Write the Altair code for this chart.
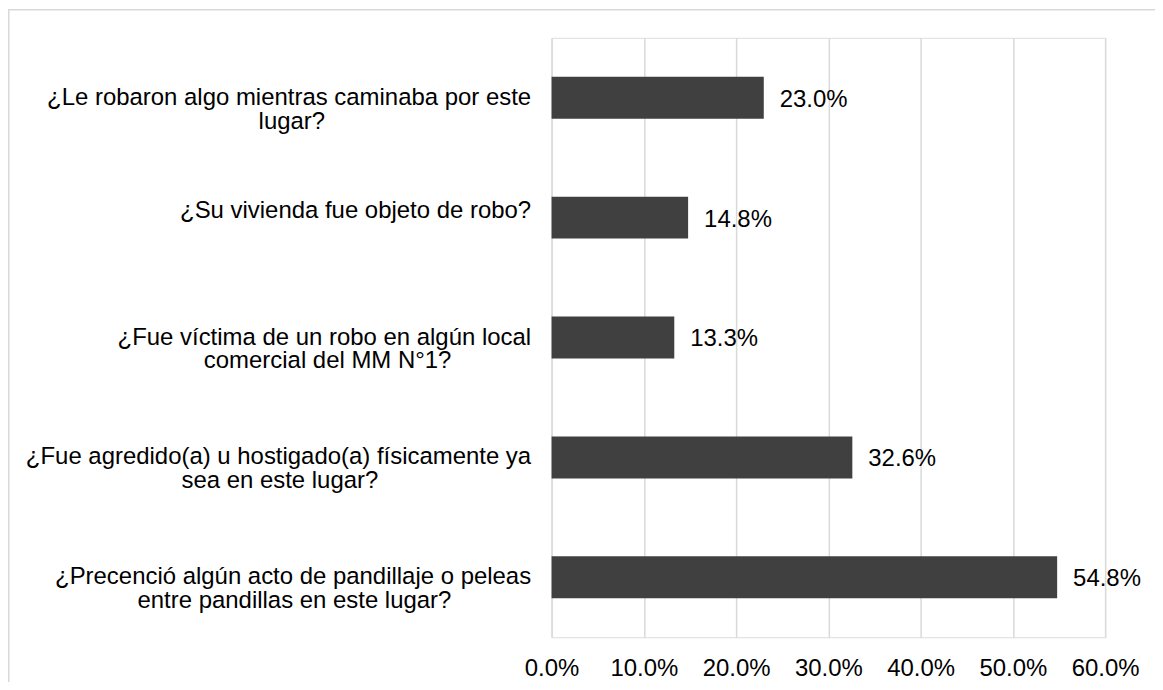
import altair as alt
import pandas as pd

# ---- data ----
label_lines = [
    ["¿Le robaron algo mientras caminaba por este", "lugar?"],
    ["¿Su vivienda fue objeto de robo?"],
    ["¿Fue víctima de un robo en algún local", "comercial del MM N°1?"],
    ["¿Fue agredido(a) u hostigado(a) físicamente ya", "sea en este lugar?"],
    ["¿Precenció algún acto de pandillaje o peleas", "entre pandillas en este lugar?"],
]
values = [0.230, 0.148, 0.133, 0.326, 0.548]
tick_values = [0.0, 0.1, 0.2, 0.3, 0.4, 0.5, 0.6]

# Arial-metric glyph widths (per 1000 em) used to centre the second line of each label
W = {
    "a": 556, "b": 556, "c": 500, "d": 556, "e": 556, "f": 278, "g": 556, "h": 556,
    "i": 222, "j": 222, "k": 500, "l": 222, "m": 833, "n": 556, "o": 556, "p": 556,
    "q": 556, "r": 333, "s": 500, "t": 278, "u": 556, "v": 500, "w": 722, "x": 500,
    "y": 500, "z": 500, "í": 278, "ó": 556, "ú": 556, "á": 556, "é": 556,
    "L": 556, "S": 667, "F": 611, "P": 667, "M": 833, "N": 722,
    "¿": 611, "?": 556, "(": 333, ")": 333, "°": 400, "1": 556, " ": 278,
}


def tw(s):
    return sum(W.get(c, 556) for c in s)


def build_label(lines):
    # lines after the first are padded with no-break spaces (kept by a word joiner)
    # so that, right-aligned, they appear centred under the first line
    if len(lines) == 1:
        return lines[0]
    w1 = tw(lines[0])
    out = [lines[0]]
    for ln in lines[1:]:
        n = round((w1 - tw(ln)) / 2 / 278)
        out.append(ln + "\u00a0" * max(n, 0) + "\u2060")
    return "|".join(out)


labels = [build_label(l) for l in label_lines]
df = pd.DataFrame({"label": labels, "value": values})

FONT = "Liberation Sans, Arial, sans-serif"
FS = 24
W_PLOT, H_PLOT = 555, 601
PAD = {"left": 545, "top": 29, "right": 50, "bottom": 44}

y_enc = alt.Y(
    "label:N",
    sort=labels,
    scale=alt.Scale(paddingInner=0.65, paddingOuter=0.325),
    axis=alt.Axis(
        title=None,
        labelExpr="split(datum.label, '|')",
        labelFont=FONT,
        labelFontSize=FS,
        labelColor="#000000",
        labelPadding=21,
        labelLimit=0,
        labelLineHeight=24,
        labelAlign="right",
        labelOffset={"condition": {"test": "indexof(datum.value, '|') < 0", "value": -7}, "value": 0},
        ticks=False,
        domain=False,
        grid=False,
    ),
)

x_enc = alt.X(
    "value:Q",
    scale=alt.Scale(domain=[0, 0.6], nice=False),
    axis=alt.Axis(
        title=None,
        values=tick_values,
        format=".1%",
        labelFont=FONT,
        labelFontSize=FS,
        labelColor="#000000",
        labelPadding=19,
        ticks=False,
        domain=False,
        grid=True,
        gridColor="#d9d9d9",
        gridWidth=1.5,
        labelFlush=False,
    ),
)

frame = alt.Chart(pd.DataFrame({"f": [0]})).mark_rect(
    fillOpacity=0, stroke="#d9d9d9", strokeWidth=1.5
).encode(
    x=alt.value(-PAD["left"] + 0.75),
    x2=alt.value(W_PLOT + PAD["right"] + 20),
    y=alt.value(-PAD["top"] + 0.75),
    y2=alt.value(H_PLOT + PAD["bottom"] + 20),
)

bars = alt.Chart(df).mark_bar(color="#404040").encode(x=x_enc, y=y_enc)

text = alt.Chart(df).mark_text(
    align="left", baseline="middle", dx=16, dy=2, font=FONT, fontSize=FS, color="#000000"
).encode(
    x=alt.X("value:Q"),
    y=alt.Y("label:N", sort=labels),
    text=alt.Text("value:Q", format=".1%"),
)

chart = alt.layer(frame, bars, text).properties(
    width=W_PLOT,
    height=H_PLOT,
    padding=PAD,
    autosize=alt.AutoSizeParams(type="none"),
).configure_view(stroke=None).configure(background="#ffffff")

chart.save("out.html", embed_options={"renderer": "svg", "actions": False})
